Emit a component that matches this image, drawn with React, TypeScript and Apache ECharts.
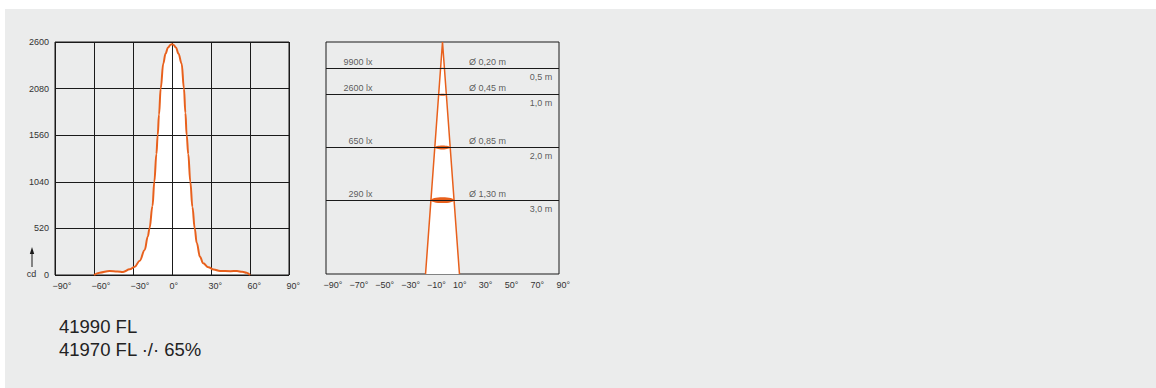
import React, { useEffect, useRef } from "react";
import * as echarts from "echarts";

// ---------- Data: luminous intensity distribution (left) ----------
const intensityAngles = [
  -60, -55.6, -48, -42, -37.6, -32.5, -28.6, -24.8, -21, -18.6, -17.3, -15, -13.6, -12, -11, -10, -8.7, -6.7, -5, -3, -1,
  0, 1, 3, 5, 7.4, 9.2, 10.3, 11.3, 12.5, 14.1, 15.7, 17.5, 19, 21.5, 24, 28, 32, 37, 45, 50, 54, 57.4, 60,
];
const intensityValues = [
  0, 26, 45, 40, 34, 63, 93, 160, 280, 430, 520, 770, 1040, 1350, 1560, 1790, 2080, 2360, 2470, 2540, 2570,
  2575, 2570, 2540, 2470, 2360, 2080, 1810, 1560, 1350, 1040, 760, 520, 360, 204, 130, 86, 62, 45, 42, 45, 35, 25, 0,
];
const cdTicks = [0, 520, 1040, 1560, 2080, 2600];

// ---------- Data: cone diagram (right) ----------
const distances = [0.5, 1.0, 2.0, 3.0]; // m
const illuminance = [9900, 2600, 650, 290]; // lx
const diameters = [0.2, 0.45, 0.85, 1.3]; // m
const coneHalfAngle = 13.1; // deg (drawing)
const coneDepth = 4.4; // m shown

// ---------- Caption ----------
const captionLines = ["41990 FL", "41970 FL \u00B7/\u00B7 65%"];

const ORANGE = "#e8601c";
const INK = "#1a1a1a";
const TXT = "#333333";
const FONT = "'Liberation Sans', Arial, Helvetica, sans-serif";

const degLabel = (v: number) => (v < 0 ? "\u2212" + Math.abs(v) : String(v)) + "\u00B0";
const comma = (n: number, d: number) => n.toFixed(d).replace(".", ",");

export default function App() {
  const ref = useRef<HTMLDivElement>(null);

  useEffect(() => {
    if (!ref.current) return;
    const chart = echarts.init(ref.current, undefined, { renderer: "svg" });

    const LUX_X = -54;
    const DIAM_X = 20.5;
    const DIST_X = 84.8;
    const FS = 9;

    const xLabel = {
      fontSize: FS,
      color: TXT,
      fontFamily: FONT,
      margin: 6,
      align: "left",
      padding: [0, 0, 0, -2.5],
    };

    const option: any = {
      animation: false,
      grid: [
        { left: 55, top: 42, width: 234, height: 233, show: true, borderColor: INK, borderWidth: 1, backgroundColor: "transparent", z: 2 },
        { left: 326, top: 42, width: 233, height: 232, show: true, borderColor: INK, borderWidth: 1, backgroundColor: "transparent", z: 2 },
      ],
      xAxis: [
        {
          type: "value",
          gridIndex: 0,
          min: -90,
          max: 90,
          interval: 30,
          z: 2,
          axisLine: { show: false },
          axisTick: { show: false },
          splitLine: { show: true, lineStyle: { color: INK, width: 1 } },
          axisLabel: { ...xLabel, formatter: (v: number) => degLabel(v) },
        },
        {
          type: "value",
          gridIndex: 1,
          min: -90,
          max: 90,
          interval: 10,
          axisLine: { show: false },
          axisTick: { show: false },
          splitLine: { show: false },
          axisLabel: { ...xLabel, formatter: (v: number) => (Math.abs(v) % 20 === 10 ? degLabel(v) : "") },
        },
      ],
      yAxis: [
        {
          type: "value",
          gridIndex: 0,
          min: cdTicks[0],
          max: cdTicks[cdTicks.length - 1],
          interval: cdTicks[1] - cdTicks[0],
          z: 2,
          axisLine: { show: false },
          axisTick: { show: false },
          splitLine: { show: true, lineStyle: { color: INK, width: 1 } },
          axisLabel: { fontSize: FS, color: TXT, fontFamily: FONT, margin: 6, formatter: (v: number) => String(v) },
        },
        {
          type: "value",
          gridIndex: 1,
          min: 0,
          max: coneDepth,
          inverse: true,
          show: false,
          splitLine: { show: false },
        },
      ],
      series: [
        {
          type: "line",
          xAxisIndex: 0,
          yAxisIndex: 0,
          data: intensityAngles.map((a, i) => [a, intensityValues[i]]),
          smooth: 0.4,
          smoothMonotone: "x",
          showSymbol: false,
          lineStyle: { width: 0, opacity: 0 },
          areaStyle: { color: "#ffffff", opacity: 1 },
          z: 1,
          silent: true,
        },
        {
          type: "line",
          xAxisIndex: 0,
          yAxisIndex: 0,
          data: intensityAngles.map((a, i) => [a, intensityValues[i]]),
          smooth: 0.4,
          smoothMonotone: "x",
          showSymbol: false,
          lineStyle: { color: ORANGE, width: 2 },
          z: 3,
          silent: true,
        },
        {
          type: "scatter",
          xAxisIndex: 1,
          yAxisIndex: 1,
          data: distances.map((d) => [DIST_X, d]),
          symbolSize: 0,
          silent: true,
          z: 1,
          label: {
            show: true,
            position: "bottom",
            distance: 4,
            align: "right",
            fontSize: FS,
            color: TXT,
            fontFamily: FONT,
            formatter: (p: any) => comma(distances[p.dataIndex], 1) + " m",
          },
          markLine: {
            silent: true,
            symbol: ["none", "none"],
            label: { show: false },
            lineStyle: { color: INK, width: 1, type: "solid" },
            data: distances.map((d) => ({ yAxis: d })),
          },
        },
        {
          type: "custom",
          xAxisIndex: 1,
          yAxisIndex: 1,
          data: [[coneHalfAngle, coneDepth]],
          silent: true,
          z: 3,
          renderItem: (params: any, api: any) => {
            const h = api.value(0);
            const depth = api.value(1);
            const apex = api.coord([0, 0]);
            const bl = api.coord([-h, depth]);
            const br = api.coord([h, depth]);
            return {
              type: "group",
              children: [
                { type: "polygon", shape: { points: [apex, bl, br] }, style: { fill: "#ffffff" } },
                { type: "polyline", shape: { points: [bl, apex, br] }, style: { fill: "none", stroke: ORANGE, lineWidth: 1.5 } },
              ],
            };
          },
        },
        {
          type: "custom",
          xAxisIndex: 1,
          yAxisIndex: 1,
          data: distances.map((d) => [0, d]),
          silent: true,
          z: 4,
          renderItem: (params: any, api: any) => {
            const d = api.value(1);
            const c = api.coord([0, d]);
            const e = api.coord([(coneHalfAngle * d) / coneDepth, d]);
            const rx = Math.max(e[0] - c[0], 1);
            return {
              type: "ellipse",
              shape: { cx: c[0], cy: c[1], rx: rx, ry: Math.max(rx * 0.25, 0.6) },
              style: { fill: ORANGE },
            };
          },
        },
        {
          type: "scatter",
          xAxisIndex: 1,
          yAxisIndex: 1,
          data: distances.map((d) => [LUX_X, d]),
          symbolSize: 0,
          silent: true,
          z: 5,
          label: {
            show: true,
            position: "top",
            distance: 2,
            align: "right",
            fontSize: FS,
            color: TXT,
            fontFamily: FONT,
            formatter: (p: any) => illuminance[p.dataIndex] + " lx",
          },
        },
        {
          type: "scatter",
          xAxisIndex: 1,
          yAxisIndex: 1,
          data: distances.map((d) => [DIAM_X, d]),
          symbolSize: 0,
          silent: true,
          z: 5,
          label: {
            show: true,
            position: "top",
            distance: 2,
            align: "left",
            fontSize: FS,
            color: TXT,
            fontFamily: FONT,
            formatter: (p: any) => "\u00D8 " + comma(diameters[p.dataIndex], 2) + " m",
          },
        },
      ],
      graphic: [
        {
          type: "text",
          x: 31.5,
          y: 274,
          style: { text: "cd", fontSize: FS, fill: TXT, fontFamily: FONT, align: "center", verticalAlign: "middle" },
        },
        {
          type: "line",
          shape: { x1: 32, y1: 267, x2: 32, y2: 252 },
          style: { stroke: INK, lineWidth: 1 },
        },
        {
          type: "polygon",
          shape: { points: [[32, 247], [29.8, 254], [34.2, 254]] },
          style: { fill: INK },
        },
        {
          type: "text",
          x: 59,
          y: 326.5,
          style: { text: captionLines[0], fontSize: 18.5, fill: "#222", fontFamily: FONT, verticalAlign: "middle" },
        },
        {
          type: "text",
          x: 59,
          y: 349.5,
          style: { text: captionLines[1], fontSize: 18.5, fill: "#222", fontFamily: FONT, verticalAlign: "middle" },
        },
      ],
    };

    chart.setOption(option);
    return () => chart.dispose();
  }, []);

  return (
    <div style={{ position: "absolute", left: 0, top: 0, width: 1156, height: 388, overflow: "hidden" }}>
      <div style={{ position: "absolute", left: 5, top: 9, width: 1151, height: 379, background: "#ebecec" }} />
      <div ref={ref} style={{ position: "absolute", left: 0, top: 0, width: 1156, height: 388 }} />
    </div>
  );
}
